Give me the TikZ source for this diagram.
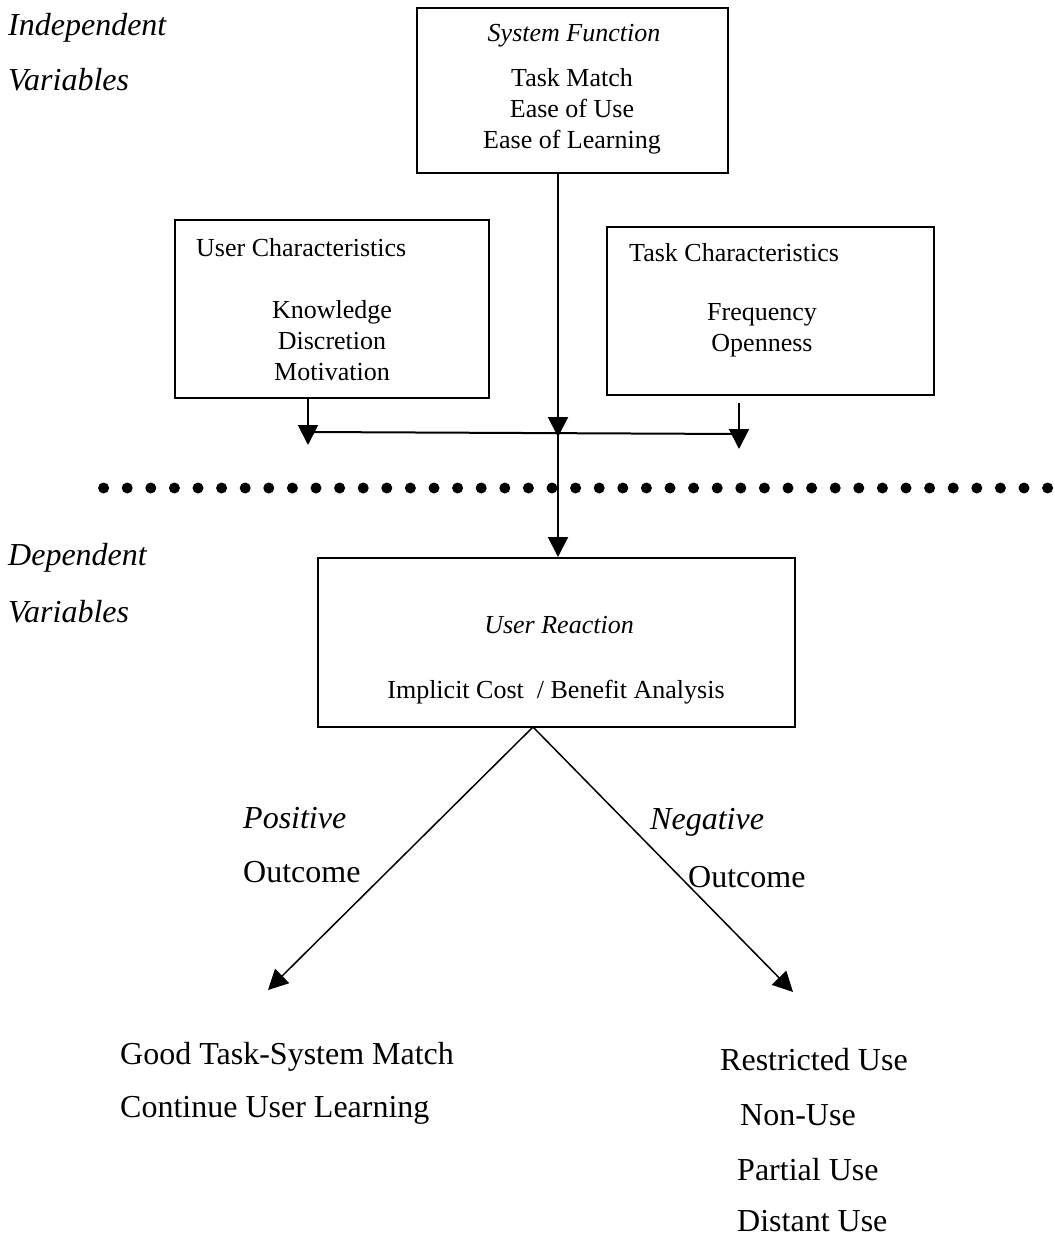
\documentclass[tikz,border=0pt]{standalone}
\usepackage{fontspec}
\setmainfont{Liberation Serif}
\usetikzlibrary{arrows.meta, positioning, calc}
\tikzset{
  box/.style={
    rectangle, draw=black, line width=2pt, inner sep=0pt
  },
  boxtext/.style={
    inner sep=0pt, align=center, font=\fontsize{26}{31}\selectfont
  },
  boxtitle/.style={
    inner sep=0pt, font=\fontsize{26}{31}\selectfont
  },
  sidelabel/.style={
    inner sep=0pt, anchor=west, font=\fontsize{32}{40}\selectfont\itshape
  },
  outcome/.style={
    inner sep=0pt, anchor=west, font=\fontsize{32}{40}\selectfont
  },
  arrow/.style={-{Triangle[length=20pt, width=20pt]}, line width=2pt},
  fanarrow/.style={-{Triangle[length=20pt, width=20pt]}, line width=1.5pt},
  joinline/.style={line width=2pt},
  dotline/.style={line width=11pt, line cap=round, dash pattern=on 0pt off 23.6pt}
}

\begin{document}
\begin{tikzpicture}[x=1pt, y=-1pt]
  \useasboundingbox (0,0) rectangle (1054,1238);

  % independent variables
  \node[sidelabel] (indep) at (8,28) {Independent};
  \node[sidelabel] (indepvar) at (8,80) {Variables};

  \node[box, minimum width=311pt, minimum height=165pt] (sysfn) at (572.5,90.5) {};
  \node[boxtitle, font=\fontsize{26}{31}\selectfont\itshape] (sysfntitle) at (574,36)
    {System Function};
  \node[boxtext] (sysfnitems) at (572,111.5)
    {Task Match\\Ease of Use\\Ease of Learning};

  \node[box, minimum width=314pt, minimum height=178pt] (userchar) at (332,309) {};
  \node[boxtitle, anchor=west] (userchartitle) at (196,248) {User Characteristics};
  \node[boxtext] (usercharitems) at (332,341)
    {Knowledge\\Discretion\\Motivation};

  \node[box, minimum width=327pt, minimum height=168pt] (taskchar) at (770.5,311) {};
  \node[boxtitle, anchor=west] (taskchartitle) at (629,253) {Task Characteristics};
  \node[boxtext] (taskcharitems) at (762,330.5)
    {Frequency\\Openness};

  % joining arrows
  \coordinate (join) at (558,432);
  \coordinate (joinL) at (308,432);
  \coordinate (joinR) at (739,434);
  \draw[arrow] (sysfn.south -| join) -- ($(join)+(0,5)$);
  \draw[arrow] (userchar.south -| joinL) -- ($(joinL)+(0,13)$);
  \draw[arrow] ($(taskchar.south -| joinR)+(0,7)$) -- ($(joinR)+(0,15)$);
  \draw[joinline] (joinL) -- (joinR);

  % divider
  \coordinate (divL) at (103.6,488);
  \coordinate (divR) at (1060,488);
  \draw[dotline] (divL) -- (divR);

  % dependent variables
  \node[sidelabel] (dep) at (8,558) {Dependent};
  \node[sidelabel] (depvar) at (8,612) {Variables};

  \node[box, minimum width=477pt, minimum height=169pt] (reaction) at (556.5,642.5) {};
  \node[boxtitle, font=\fontsize{26}{31}\selectfont\itshape] (reactiontitle) at (559,625)
    {User Reaction};
  \node[boxtext] (reactionitem) at (556,692) {Implicit Cost~~/ Benefit Analysis};
  \draw[arrow] (join) -- (reaction.north -| join);

  % outcomes
  \coordinate (fork) at (533,727);
  \coordinate (goodtip) at (268,990);
  \coordinate (badtip) at (793,992);
  \draw[fanarrow] (fork) -- (goodtip);
  \draw[fanarrow] (fork) -- (badtip);

  \node[sidelabel] (pos) at (243,818) {Positive};
  \node[outcome] (posout) at (243,872) {Outcome};
  \node[sidelabel] (neg) at (650,822) {Negative};
  \node[outcome] (negout) at (688,877) {Outcome};

  \node[outcome] (good1) at (120,1057) {Good Task-System Match};
  \node[outcome] (good2) at (120,1110) {Continue User Learning};

  \node[outcome] (bad1) at (720,1060) {Restricted Use};
  \node[outcome] (bad2) at (740,1115) {Non-Use};
  \node[outcome] (bad3) at (737,1170) {Partial Use};
  \node[outcome] (bad4) at (737,1221) {Distant Use};
\end{tikzpicture}
\end{document}
